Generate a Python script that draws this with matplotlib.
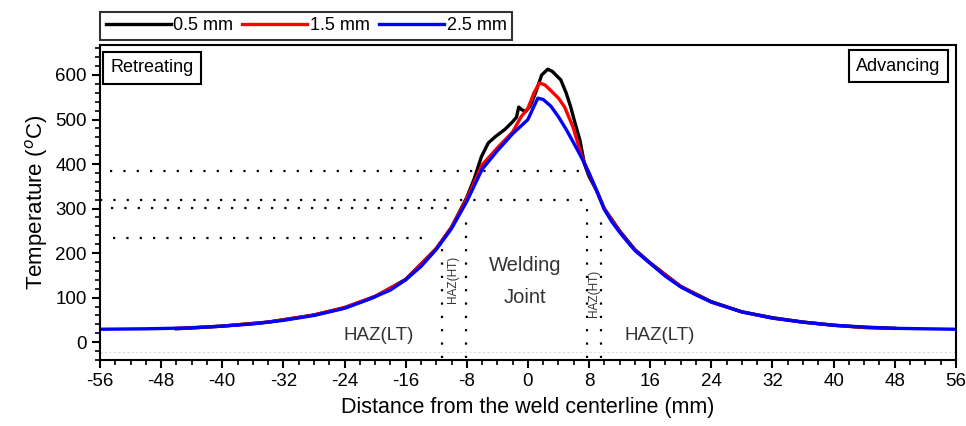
import matplotlib
matplotlib.use("Agg")
import matplotlib.pyplot as plt
from matplotlib.ticker import MultipleLocator

plt.rcParams['font.family'] = ['Liberation Sans', 'DejaVu Sans']
plt.rcParams['axes.unicode_minus'] = False

# ---- data ----
x_05 = [-46, -40, -34, -28, -24, -20, -16, -12, -10, -8, -7, -6.1, -5.2, -4.3, -3, -2, -1.5, -1.2,
        -0.8, -0.3, 0.3, 1, 1.8, 2.6, 3.2, 4.3, 5, 5.6, 6.2, 6.8, 7.4, 8, 9, 10, 12, 14, 16, 20,
        24, 28, 32, 36, 40, 44, 48]
t_05 = [30, 36, 45, 61, 77, 102, 141, 210, 258, 325, 368, 416, 447, 461, 478, 495, 505, 528,
        522, 518, 530, 560, 600, 613, 608, 589, 560, 528, 490, 454, 400, 372, 340, 300, 250, 208,
        178, 125, 91, 68, 55, 45, 38, 33, 31]

x_15 = [-46, -40, -34, -28, -24, -20, -16, -12, -10, -8, -6, -3.9, -2, -0.9, 0, 0.8, 1.5, 2.2,
        3, 4, 4.8, 5.9, 7, 8, 9, 10, 12, 14, 16, 20, 24, 28, 32, 36, 40, 44, 48]
t_15 = [31, 36, 45, 61, 78, 103, 140, 210, 258, 322, 398, 438, 472, 506, 525, 560, 582, 578,
        565, 548, 528, 483, 420, 378, 340, 299, 248, 207, 177, 125, 90, 68, 54, 45, 38, 33, 31]

x_25 = [-56, -50, -44, -40, -36, -32, -28, -24, -21, -18, -16, -14, -12, -10, -8, -6, -4, -2, 0,
        0.8, 1.3, 2, 3, 4, 5, 6, 7, 8, 9, 10, 11, 12, 13, 14, 16, 18, 20, 22, 24, 28, 32, 36,
        40, 44, 48, 52, 56]
t_25 = [29, 30, 32, 36, 41, 49, 60, 76, 95, 117, 140, 170, 208, 255, 316, 388, 430, 468, 500,
        530, 548, 545, 530, 506, 478, 447, 415, 380, 340, 298, 270, 247, 226, 206, 177, 148, 124,
        106, 90, 68, 54, 45, 38, 34, 31, 30, 29]

series_labels = ['0.5 mm', '1.5 mm', '2.5 mm']
series_colors = ['black', 'red', 'blue']

# reference lines: (y value, x start, x end)
h_refs = [(385, -54.7, 7.0), (319, -56, 7.7), (302, -54.5, -10.5), (234, -54.3, -13.5)]
# (x value, y bottom, y top)
v_refs = [(-11.3, -35, 215), (-8.1, -35, 278), (7.7, -35, 320), (9.5, -35, 290)]

xticks = list(range(-56, 57, 8))
yticks = list(range(0, 601, 100))

fig = plt.figure(figsize=(9.66, 4.26), dpi=100)
ax = fig.add_axes([0.1035, 0.155, 0.886, 0.739])

lines = []
for xs, ts, lab, col in zip([x_05, x_15, x_25], [t_05, t_15, t_25], series_labels, series_colors):
    ln, = ax.plot(xs, ts, color=col, lw=2.4, label=lab, solid_joinstyle='round')
    lines.append(ln)

dot = (0, (1, 5))
for yv, x0, x1 in h_refs:
    ax.plot([x0, x1], [yv, yv], color='black', lw=1.6, linestyle=dot)
for xv, y0, y1 in v_refs:
    ax.plot([xv, xv], [y0, y1], color='black', lw=1.6, linestyle=dot)
ax.plot([-56, 56], [-22, -22], color='#dcdcdc', lw=0.8, linestyle=(0, (2, 2)))

ax.set_xlim(-56, 56)
ax.set_ylim(-40, 667)
ax.set_xticks(xticks)
ax.set_yticks(yticks)
ax.xaxis.set_minor_locator(MultipleLocator(2))
ax.yaxis.set_minor_locator(MultipleLocator(20))
ax.tick_params(axis='both', which='major', direction='out', length=6, width=1.5, labelsize=13.5)
ax.tick_params(axis='both', which='minor', direction='out', length=3.5, width=1.2)
for s in ax.spines.values():
    s.set_linewidth(1.5)

ax.set_xlabel('Distance from the weld centerline (mm)', fontsize=15.5, labelpad=5)
ax.set_ylabel('Temperature ($^{o}$C)', fontsize=16, labelpad=4)

txtc = '#333333'
ax.text(-0.4, 173, 'Welding', fontsize=14.5, ha='center', va='center', color=txtc)
ax.text(-0.4, 101, 'Joint', fontsize=14.5, ha='center', va='center', color=txtc)
ax.text(-19.5, 16, 'HAZ(LT)', fontsize=13.5, ha='center', va='center', color=txtc)
ax.text(17.2, 16, 'HAZ(LT)', fontsize=13.5, ha='center', va='center', color=txtc)
ax.text(-9.8, 140, 'HAZ(HT)', fontsize=8.5, rotation=90, ha='center', va='center', color=txtc)
ax.text(8.6, 110, 'HAZ(HT)', fontsize=8.5, rotation=90, ha='center', va='center', color=txtc)

box = dict(boxstyle='square,pad=0.4', facecolor='white', edgecolor='black', linewidth=1.5)
ax.text(-54.6, 616, 'Retreating', fontsize=13, ha='left', va='center', bbox=box)
ax.text(54.0, 620, 'Advancing', fontsize=13, ha='right', va='center', bbox=box)

leg = fig.legend(handles=lines, loc='center', bbox_to_anchor=(0.317, 0.939),
                 ncol=3, fontsize=13, frameon=True, fancybox=False, handlelength=3.6,
                 handletextpad=0.15, columnspacing=0.5, borderpad=0.3, borderaxespad=0.0)
leg.get_frame().set_edgecolor('black')
leg.get_frame().set_linewidth(1.5)

fig.savefig('out.png', dpi=100)
